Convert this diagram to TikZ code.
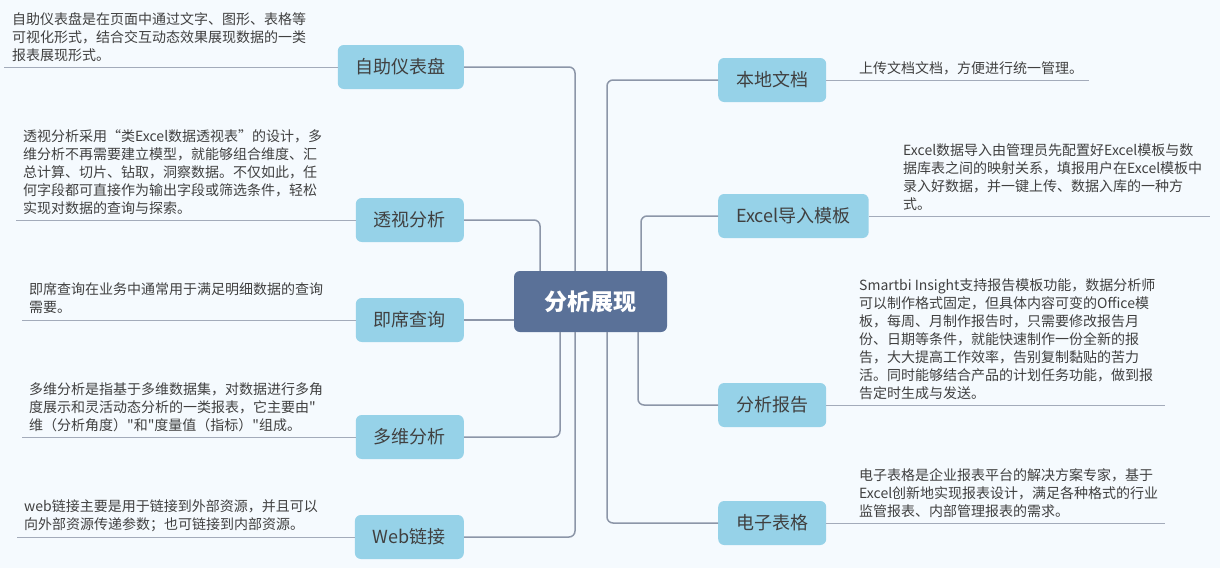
\documentclass[tikz,border=0pt]{standalone}
\usepackage{fontspec}
\setmainfont{Noto Sans CJK SC}[Ligatures=TeXOff]
\usepackage{xcolor}
\usepackage{tikz}
\usetikzlibrary{calc, positioning}

\definecolor{bgblue}{HTML}{F5FAFE}
\definecolor{boxblue}{HTML}{96D2E8}
\definecolor{rootblue}{HTML}{5A7198}
\definecolor{linegray}{HTML}{8C96A8}
\definecolor{ulgray}{HTML}{A3ABBA}
\definecolor{txtgray}{HTML}{404040}

\begin{document}
\begin{tikzpicture}[x=1pt, y=-1pt]
		\tikzstyle{root} = [fill=rootblue, rounded corners=6pt, text=white, font=\fontsize{23pt}{28pt}\selectfont\bfseries, minimum width=153pt, minimum height=61pt]
		\tikzstyle{topic} = [fill=boxblue, rounded corners=6pt, text=txtgray, font=\fontsize{18pt}{22pt}\selectfont, inner xsep=18pt, minimum height=44pt]
		\tikzstyle{desc} = [text=txtgray, font=\fontsize{14pt}{18pt}\selectfont, align=left, inner sep=0pt, anchor=south west]
		\tikzstyle{branch} = [draw=linegray, line width=1.5pt, rounded corners=6pt]
		\tikzstyle{uline} = [draw=ulgray, line width=1pt]
		
		\fill[bgblue] (0,0) rectangle (1220,568);
		\useasboundingbox (0,0) rectangle (1220,568);
		
		\node[root] 	at (590.5, 301.5) 	(root) 	{分析展现};
		
		% left side
		\node[topic, anchor=east] 	at (464, 67) 	(dash) 	{自助仪表盘};
		\node[topic, anchor=east] 	at (464, 220) 	(pivot) 	{透视分析};
		\node[topic, anchor=east] 	at (464, 320) 	(query) 	{即席查询};
		\node[topic, anchor=east] 	at (464, 437) 	(multi) 	{多维分析};
		\node[topic, anchor=east] 	at (464, 537) 	(web) 	{Web链接};
		
		% right side
		\node[topic, anchor=west] 	at (718, 80) 	(local) 	{本地文档};
		\node[topic, anchor=west] 	at (718, 216) 	(excel) 	{Excel导入模板};
		\node[topic, anchor=west] 	at (718, 405) 	(report) 	{分析报告};
		\node[topic, anchor=west] 	at (718, 523) 	(sheet) 	{电子表格};
		
		% branches
		\draw[branch] (dash.east) -| ($(root.north)+(-15.5,0)$);
		\draw[branch] (pivot.east) -| ($(root.north)+(-50.5,0)$);
		\draw[branch] (query.east) -- (query.east -| root.west);
		\draw[branch] (multi.east) -| ($(root.south)+(-30.5,0)$);
		\draw[branch] (web.east) -| ($(root.south)+(-15.5,0)$);
		\draw[branch] (local.west) -| ($(root.north)+(16.5,0)$);
		\draw[branch] (excel.west) -| ($(root.north)+(50.5,0)$);
		\draw[branch] (report.west) -| ($(root.south)+(47.5,0)$);
		\draw[branch] (sheet.west) -| ($(root.south)+(16.5,0)$);
		
		% underlines
		\coordinate (dashEnd) 	at (4, 67);
		\coordinate (pivotEnd) 	at (16, 220);
		\coordinate (queryEnd) 	at (22, 320);
		\coordinate (multiEnd) 	at (22, 437);
		\coordinate (webEnd) 	at (17, 537);
		\coordinate (localEnd) 	at (1089, 80);
		\coordinate (excelEnd) 	at (1210, 216);
		\coordinate (reportEnd) 	at (1165, 405);
		\coordinate (sheetEnd) 	at (1165, 523);
		\draw[uline] (dash.west) -- (dashEnd);
		\draw[uline] (pivot.west) -- (pivotEnd);
		\draw[uline] (query.west) -- (queryEnd);
		\draw[uline] (multi.west) -- (multiEnd);
		\draw[uline] (web.west) -- (webEnd);
		\draw[uline] (local.east) -- (localEnd);
		\draw[uline] (excel.east) -- (excelEnd);
		\draw[uline] (report.east) -- (reportEnd);
		\draw[uline] (sheet.east) -- (sheetEnd);
		
		% descriptions
		\node[desc] at (12, 62) (dashTxt) {自助仪表盘是在页面中通过文字、图形、表格等\\可视化形式，结合交互动态效果展现数据的一类\\报表展现形式。};
		\node[desc] at (23, 215) (pivotTxt) {透视分析采用“类Excel数据透视表”的设计，多\\维分析不再需要建立模型，就能够组合维度、汇\\总计算、切片、钻取，洞察数据。不仅如此，任\\何字段都可直接作为输出字段或筛选条件，轻松\\实现对数据的查询与探索。};
		\node[desc] at (29, 314) (queryTxt) {即席查询在业务中通常用于满足明细数据的查询\\需要。};
		\node[desc] at (29, 432) (multiTxt) {多维分析是指基于多维数据集，对数据进行多角\\度展示和灵活动态分析的一类报表，它主要由"\\维（分析角度）"和"度量值（指标）"组成。};
		\node[desc] at (24, 532) (webTxt) {web链接主要是用于链接到外部资源，并且可以\\向外部资源传递参数；也可链接到内部资源。};
		\node[desc] at (859, 75) (localTxt) {上传文档文档，方便进行统一管理。};
		\node[desc] at (903, 211) (excelTxt) {Excel数据导入由管理员先配置好Excel模板与数\\据库表之间的映射关系，填报用户在Excel模板中\\录入好数据，并一键上传、数据入库的一种方\\式。};
		\node[desc] at (859, 400) (reportTxt) {Smartbi Insight支持报告模板功能，数据分析师\\可以制作格式固定，但具体内容可变的Office模\\板，每周、月制作报告时，只需要修改报告月\\份、日期等条件，就能快速制作一份全新的报\\告，大大提高工作效率，告别复制黏贴的苦力\\活。同时能够结合产品的计划任务功能，做到报\\告定时生成与发送。};
		\node[desc] at (859, 518) (sheetTxt) {电子表格是企业报表平台的解决方案专家，基于\\Excel创新地实现报表设计，满足各种格式的行业\\监管报表、内部管理报表的需求。};
\end{tikzpicture}
\end{document}
